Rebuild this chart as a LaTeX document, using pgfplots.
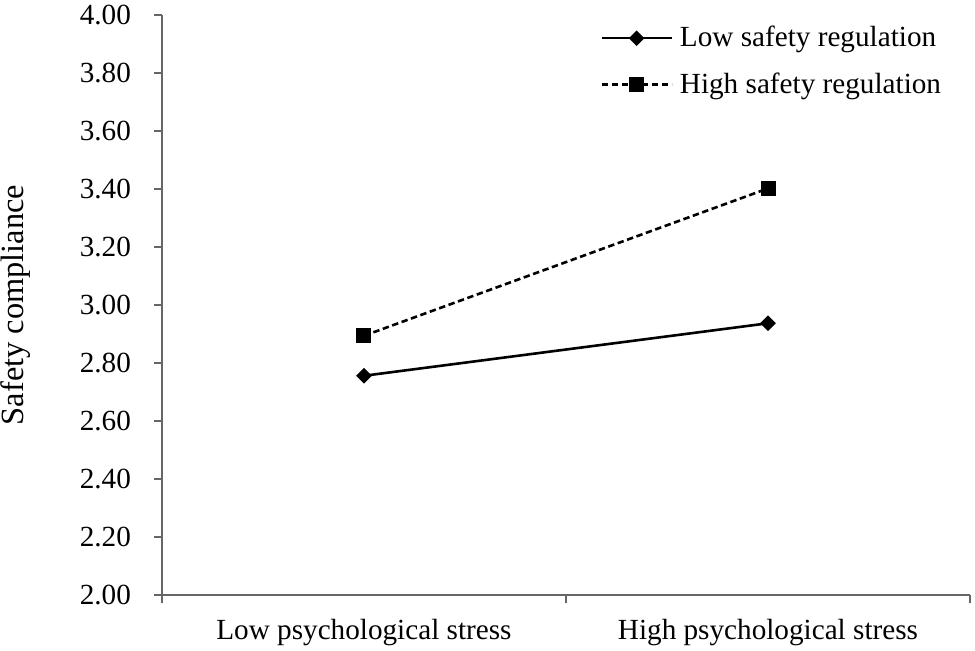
\documentclass[border=0pt]{standalone}
\usepackage{fontspec}
\setmainfont{Liberation Serif}
\usepackage{pgfplots}
\pgfplotsset{compat=1.18}
\begin{document}
\begin{tikzpicture}
\useasboundingbox (-81pt,-27.5pt) rectangle (406.5pt,297.5pt);
\begin{axis}[
  at={(0,0)}, anchor=south west,
  scale only axis, width=404pt, height=290pt,
  xmin=0.5, xmax=2.5, ymin=2, ymax=4,
  axis x line*=bottom, axis y line*=left,
  axis line style={black!60, line width=0.6pt},
  tick style={black!60, line width=0.6pt},
  tick align=outside,
  major tick length=4pt, minor tick length=4pt,
  xtick={1,2},
  xticklabels={Low psychological stress, High psychological stress},
  minor xtick={0.5,1.5,2.5},
  major x tick style={draw=none},
  ytick={2,2.2,2.4,2.6,2.8,3,3.2,3.4,3.6,3.8,4},
  yticklabel={\pgfmathprintnumber[fixed,fixed zerofill,precision=2]{\tick}},
  /pgf/number format/assume math mode=true,
  ticklabel style={font=\fontsize{14.6}{17}\selectfont, black},
  yticklabel style={xshift=-8pt},
  xticklabel style={yshift=-4.7pt},
  ylabel={Safety compliance},
  ylabel style={at={([xshift=-73pt]rel axis cs:0,0.5)}, anchor=center, font=\fontsize{16.2}{19}\selectfont},
  clip=false,
  legend cell align=left,
  legend style={at={(rel axis cs:0.542,1)}, anchor=north west, yshift=-3.5pt, draw=none, fill=none,
    font=\fontsize{14.6}{17}\selectfont, inner sep=0pt, row sep=7.5pt,
    nodes={inner sep=2pt}},
  legend image code/.code={\draw[#1, mark repeat=2, mark phase=2] plot coordinates {(0pt,0pt) (17.5pt,0pt) (35pt,0pt)};},
]
\addplot[black, line width=1.3pt, mark=square*, mark size=2.1pt, mark options={rotate=45, solid}]
  coordinates {(1,2.756) (2,2.937)};
\addlegendentry{\hspace{1.5pt}Low safety regulation}
\addplot[black, line width=1.3pt, dash pattern=on 3.2pt off 1.8pt, mark=square*, mark size=3.1pt, mark options={solid}]
  coordinates {(1,2.894) (2,3.402)};
\addlegendentry{\hspace{1.5pt}High safety regulation}
\end{axis}
\end{tikzpicture}
\end{document}
